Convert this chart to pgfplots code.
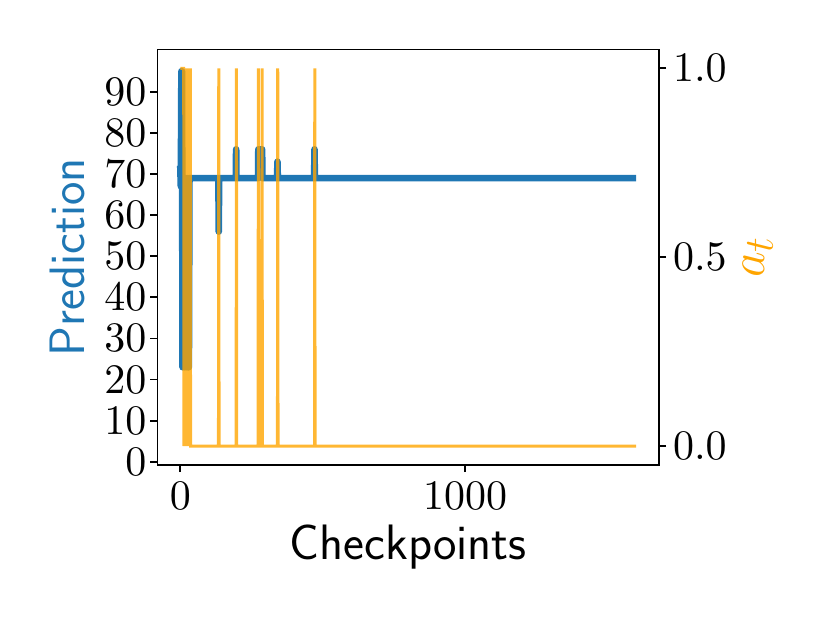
\documentclass[border=0pt]{standalone}
\usepackage{pgfplots}
\pgfplotsset{compat=1.18}
\definecolor{mplblue}{HTML}{1F77B4}
\definecolor{mplorange}{HTML}{FFA500}
\font\tickfont=cmr10 at 21pt
\begin{document}
\begin{tikzpicture}
\useasboundingbox (-78.75pt,-79pt) rectangle (336.25pt,232.5pt);
\begin{axis}[
  at={(0,0)}, anchor=south west,
  scale only axis, width=250.75pt, height=207.75pt,
  xmin=-80, xmax=1680, ymin=-0.8, ymax=100.3,
  xtick={0,1000}, ytick={0,10,...,90},
  xtick pos=bottom, ytick pos=left,
  /pgf/number format/1000 sep={},
  /pgf/number format/assume math mode=true,
  tick align=outside, major tick length=3.5pt,
  axis line style={line width=0.9pt}, every tick/.style={line width=0.9pt, black},
  tick label style={font=\tickfont},
  yticklabel style={xshift=1.5pt},
  xticklabel style={yshift=-1.5pt},
  xlabel={\sffamily Checkpoints},
  ylabel={\sffamily\color{mplblue}Prediction},
  label style={font=\fontsize{24.88}{28}\selectfont},
  xlabel style={at={(axis description cs:0.5,-0.2286)}, anchor=base},
  ylabel style={at={(axis description cs:-0.146,0.5)}, anchor=base},
]
\addplot[mplblue, line width=3.35pt, line join=round] coordinates {
(0,72)(2,67)(4,95)(6,95)(8,23)(12,69)(14,23)(18,69)(20,23)(24,69)(26,23)(30,23)(32,69)
(134,69)(135,56)(136,69)(195,69)(196,76)(197,69)(273,69)(274,76)(287,76)(288,69)
(340,69)(341,73)(342,69)(470,69)(471,76)(472,69)(1600,69)};
\end{axis}
\begin{axis}[
  at={(0,0)}, anchor=south west,
  scale only axis, width=250.75pt, height=207.75pt,
  xmin=-80, xmax=1680, ymin=-0.05, ymax=1.05,
  hide x axis, xtick=\empty, axis y line*=right,
  ytick={0,0.5,1}, yticklabels={0.0,0.5,1.0},
  /pgf/number format/assume math mode=true,
  tick align=outside, major tick length=3.5pt,
  axis line style={line width=0.9pt, -}, every tick/.style={line width=0.9pt, black},
  tick label style={font=\tickfont},
  ylabel={\color{mplorange}$a_t$},
  label style={font=\fontsize{24.88}{28}\selectfont},
  ylabel style={at={(axis description cs:1.2103,0.5)}, anchor=base},
]
\addplot[mplorange, draw opacity=0.8, line width=1.5pt] coordinates {
(0,1)(12,1)(13,0)(17,1)(18,0)(23,1)(24,0)(29,1)(30,0)(35,1)(36,0)
(134,0)(135,1)(136,0)(196,0)(197,1)(198,0)(273,0)(274,1)(275,0)(286,0)(287,1)(288,0)
(341,0)(342,1)(343,0)(471,0)(472,1)(473,0)(1600,0)};
\end{axis}
\end{tikzpicture}
\end{document}
